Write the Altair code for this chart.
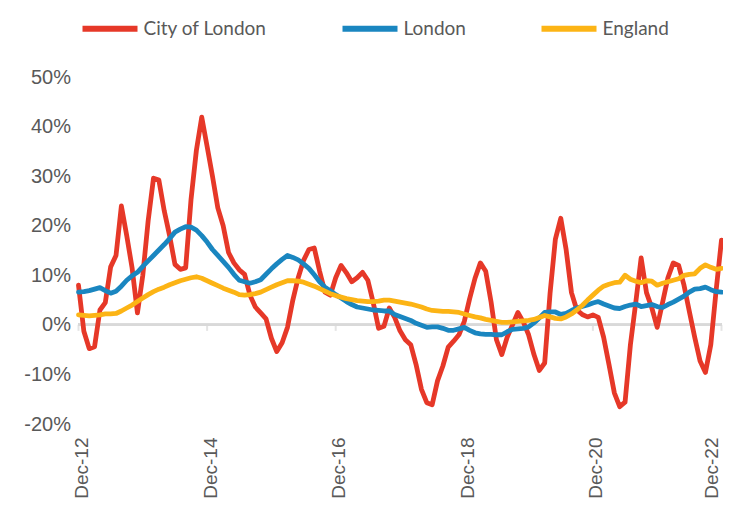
import altair as alt
import pandas as pd

series_names = ["City of London", "London", "England"]
series_colors = ["#e63828", "#1a86c0", "#fcb415"]
tick_labels = ["Dec-12", "Dec-14", "Dec-16", "Dec-18", "Dec-20", "Dec-22"]
y_ticks = [-20, -10, 0, 10, 20, 30, 40, 50]

city = [8.0, -1.3, -4.8, -4.4, 3.0, 4.5, 11.7, 14.0, 24.0, 18.0,
        11.5, 2.4, 10.0, 21.0, 29.6, 29.2, 23.0, 18.0, 12.2, 11.2,
        11.5, 25.3, 35.2, 41.9, 36.0, 30.0, 23.6, 20.0, 14.6, 12.5,
        11.1, 10.2, 6.0, 3.6, 2.4, 1.2, -2.7, -5.4, -3.6, -0.5,
        5.0, 9.5, 13.0, 15.2, 15.5, 10.8, 6.6, 6.0, 9.5, 12.0,
        10.5, 8.7, 9.5, 10.6, 9.0, 4.5, -0.7, -0.3, 3.4, 1.5,
        -1.2, -3.0, -4.0, -8.0, -13.0, -15.7, -16.1, -11.3, -8.3, -4.5,
        -3.3, -2.0, 0.7, 5.3, 9.4, 12.5, 10.8, 4.6, -3.0, -6.0,
        -2.5, 0.0, 2.5, 0.6, -2.0, -6.0, -9.2, -7.7, 6.3, 17.3,
        21.5, 15.2, 6.5, 3.0, 2.1, 1.6, 2.0, 1.5, -2.5, -8.0,
        -13.7, -16.5, -15.6, -4.0, 4.5, 13.5, 6.5, 3.4, -0.5, 4.5,
        9.5, 12.5, 12.0, 8.0, 2.7, -2.5, -7.3, -9.6, -4.0, 7.0,
        17.1]

london = [6.6, 6.7, 6.9, 7.2, 7.5, 6.9, 6.4, 6.8, 7.8, 9.0,
          9.9, 10.6, 11.8, 12.9, 14.0, 15.1, 16.2, 17.4, 18.7, 19.3,
          19.8, 19.7, 19.1, 18.0, 16.7, 15.2, 14.0, 12.8, 11.6, 10.2,
          9.0, 8.7, 8.4, 8.7, 9.1, 10.2, 11.3, 12.3, 13.2, 14.0,
          13.6, 13.1, 12.3, 11.4, 10.1, 8.7, 7.6, 6.9, 6.1, 5.4,
          4.7, 4.1, 3.6, 3.4, 3.2, 3.0, 2.9, 2.8, 2.8, 2.1,
          1.7, 1.3, 0.9, 0.3, -0.1, -0.5, -0.4, -0.4, -0.7, -1.1,
          -1.1, -0.8, -0.5, -1.1, -1.6, -1.8, -1.9, -1.9, -2.0, -2.0,
          -1.4, -0.9, -0.8, -0.7, -0.4, 0.4, 1.4, 2.5, 2.6, 2.6,
          2.1, 2.3, 2.9, 3.4, 3.7, 4.0, 4.4, 4.7, 4.2, 3.8,
          3.4, 3.3, 3.7, 4.0, 4.2, 3.7, 3.9, 4.1, 3.7, 3.5,
          4.1, 4.6, 5.2, 5.8, 6.6, 7.2, 7.3, 7.6, 7.1, 6.7,
          6.6]

england = [2.0, 1.9, 1.8, 1.9, 2.0, 2.2, 2.2, 2.3, 2.8, 3.4,
           4.0, 4.7, 5.4, 6.1, 6.7, 7.2, 7.6, 8.1, 8.5, 8.9,
           9.2, 9.5, 9.7, 9.4, 8.9, 8.4, 7.9, 7.4, 7.0, 6.6,
           6.1, 6.0, 6.1, 6.3, 6.6, 7.1, 7.6, 8.1, 8.5, 8.9,
           8.9, 8.8, 8.6, 8.2, 7.8, 7.3, 6.8, 6.3, 5.9, 5.6,
           5.3, 5.1, 4.9, 4.8, 4.7, 4.7, 4.8, 5.0, 5.0, 4.8,
           4.6, 4.4, 4.2, 3.9, 3.6, 3.2, 2.9, 2.8, 2.7, 2.7,
           2.6, 2.5, 2.2, 1.9, 1.6, 1.4, 1.1, 0.9, 0.7, 0.5,
           0.5, 0.6, 0.7, 0.8, 0.9, 1.1, 1.5, 1.9, 1.6, 1.3,
           1.2, 1.6, 2.2, 3.0, 3.9, 5.0, 6.0, 7.0, 7.8, 8.2,
           8.5, 8.6, 10.0, 9.2, 8.8, 8.5, 8.9, 8.8, 8.0, 8.4,
           8.7, 9.0, 9.3, 10.0, 10.2, 10.3, 11.4, 12.1, 11.6, 11.2,
           11.4]

n = len(city)
tick_idx = [i * 24 for i in range(len(tick_labels))]

rows = []
for name, vals in zip(series_names, [city, london, england]):
    for i, v in enumerate(vals):
        rows.append({"month": i, "series": name, "value": v})
df = pd.DataFrame(rows)
ticks_df = pd.DataFrame({"month": tick_idx, "value": [0] * len(tick_idx)})

label_arr = "[" + ",".join("'%s'" % t for t in tick_labels) + "]"

FONT = "Liberation Sans"
GREY = "#595959"
AXIS_GREY = "#d9d9d9"

x_scale = alt.Scale(domain=[0, n - 1], nice=False, zero=False)
y_scale = alt.Scale(domain=[-20, 50], nice=False, zero=False)

zero_line = alt.Chart(df).mark_rule(color=AXIS_GREY, strokeWidth=2).encode(
    y=alt.datum(0, scale=y_scale)
)

tick_marks = alt.Chart(ticks_df).mark_tick(
    orient="vertical", color=AXIS_GREY, thickness=2, size=6, yOffset=3
).encode(
    x=alt.X("month:Q", scale=x_scale),
    y=alt.Y("value:Q", scale=y_scale),
)

lines = alt.Chart(df).mark_line(strokeWidth=4.8, strokeJoin="round", strokeCap="round").encode(
    x=alt.X(
        "month:Q",
        scale=x_scale,
        axis=alt.Axis(
            values=tick_idx,
            labelExpr=label_arr + "[round(datum.value/24)]",
            labelAngle=270,
            labelFont=FONT,
            labelFontSize=19,
            labelColor=GREY,
            labelPadding=13,
            labelOffset={"condition": {"test": "datum.value >= %d" % (n - 1), "value": -10}, "value": 3},
            ticks=False,
            domain=False,
            grid=False,
            title=None,
        ),
    ),
    y=alt.Y(
        "value:Q",
        scale=y_scale,
        axis=alt.Axis(
            values=y_ticks,
            labelExpr="datum.value + '%'",
            labelFont=FONT,
            labelFontSize=20,
            labelColor=GREY,
            labelPadding=8,
            ticks=False,
            domain=False,
            grid=False,
            title=None,
        ),
    ),
    color=alt.Color(
        "series:N",
        scale=alt.Scale(domain=series_names, range=series_colors),
        sort=series_names,
        legend=alt.Legend(
            orient="none",
            legendX=1,
            legendY=-79,
            direction="horizontal",
            title=None,
            symbolType="stroke",
            symbolSize=3025,
            symbolStrokeWidth=6,
            labelFont="Lato",
            labelFontSize=19,
            labelColor=GREY,
            columnPadding=63,
            labelOffset=3,
        ),
    ),
    order=alt.Order("month:Q"),
)

chart = alt.layer(zero_line, tick_marks, lines).properties(
    width=643,
    height=347,
    autosize=alt.AutoSizeParams(type="none"),
    padding={"left": 70.5, "top": 69, "right": 1.5, "bottom": 76},
).configure_view(stroke=None)

chart.save("out.html", embed_options={"renderer": "svg", "actions": False})
